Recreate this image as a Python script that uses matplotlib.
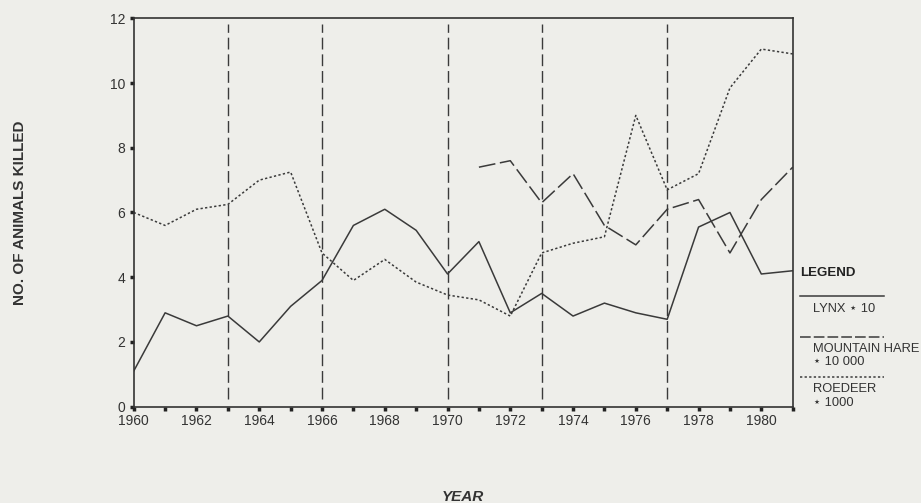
import matplotlib
matplotlib.use("Agg")
import matplotlib.pyplot as plt
from matplotlib.lines import Line2D
from matplotlib.ticker import FixedLocator

plt.rcParams['font.family'] = ['Liberation Sans', 'DejaVu Sans']

years = list(range(1960, 1982))
lynx = [1.1, 2.9, 2.5, 2.8, 2.0, 3.1, 3.9, 5.6, 6.1, 5.45, 4.1, 5.1,
        2.9, 3.5, 2.8, 3.2, 2.9, 2.7, 5.55, 6.0, 4.1, 4.2]
hare_years = list(range(1971, 1982))
hare = [7.4, 7.6, 6.3, 7.2, 5.6, 5.0, 6.1, 6.4, 4.75, 6.4, 7.4]
roedeer = [6.0, 5.6, 6.1, 6.25, 7.0, 7.25, 4.75, 3.9, 4.55, 3.85, 3.45, 3.3,
           2.8, 4.75, 5.05, 5.25, 9.0, 6.7, 7.2, 9.85, 11.05, 10.9]
period_lines = [1963, 1966, 1970, 1973, 1977]
xtick_labels = [str(y) for y in range(1960, 1982, 2)]
yticks = [0, 2, 4, 6, 8, 10, 12]

bg = '#eeeeea'
ink = '#3a3a3a'
hare_ls = (0, (11, 3))

fig = plt.figure(figsize=(9.21, 5.03), dpi=100, facecolor=bg)
ax = fig.add_axes([0.1452, 0.1915, 0.7155, 0.7721], facecolor=bg)

for yr in period_lines:
    ax.axvline(yr, color=ink, lw=1.0, linestyle=(0, (8.5, 3.5)), ymin=0.02, ymax=0.985)

ax.plot(years, lynx, color=ink, lw=1.1, linestyle='-')
ax.plot(hare_years, hare, color=ink, lw=1.1, linestyle=hare_ls)
ax.plot(years, roedeer, color=ink, lw=1.1, linestyle=(0, (1.5, 1.5)))

ax.set_xlim(1960, 1981)
ax.set_ylim(0, 12)
ax.xaxis.set_major_locator(FixedLocator(list(range(1960, 1982, 2))))
ax.set_xticklabels(xtick_labels)
ax.xaxis.set_minor_locator(FixedLocator(list(range(1961, 1982, 2))))
ax.set_yticks(yticks)
ax.set_yticklabels([str(v) for v in yticks])
ax.tick_params(axis='both', which='both', direction='out', length=3, width=2.5,
               color='#222222', labelsize=10, labelcolor='#333333')
ax.tick_params(axis='x', pad=2)
ax.tick_params(axis='y', pad=3)
for s in ax.spines.values():
    s.set_color('#333333')
    s.set_linewidth(1.2)

fig.text(0.0217, 0.5765, 'NO. OF ANIMALS KILLED', rotation=90, ha='center', va='center',
         fontsize=11, fontweight='bold', color='#333333')
fig.text(0.5027, 0.012, 'YEAR', ha='center', va='center', fontsize=11,
         fontstyle='italic', fontweight='bold', color='#333333')

# legend
x0, x1 = 0.8686, 0.9598
lfs = 9.3
fig.text(x0, 0.4573, 'LEGEND', ha='left', va='center', fontsize=9.5, fontweight='bold', color='#222222')
fig.add_artist(Line2D([x0, x1], [0.4121, 0.4121], transform=fig.transFigure, color=ink, lw=1.1))
fig.text(0.8827, 0.3863, 'LYNX \u22c6 10', ha='left', va='center', fontsize=lfs, color='#333333')
fig.add_artist(Line2D([x0, x1], [0.3306, 0.3306], transform=fig.transFigure, color=ink, lw=1.1,
                      linestyle=(0, (7, 2))))
fig.text(0.8827, 0.3062, 'MOUNTAIN HARE', ha='left', va='center', fontsize=lfs, color='#333333')
fig.text(0.8827, 0.2809, '\u22c6 10 000', ha='left', va='center', fontsize=lfs, color='#333333')
fig.add_artist(Line2D([x0, x1], [0.2505, 0.2505], transform=fig.transFigure, color=ink, lw=1.1,
                      linestyle=(0, (1.5, 1.5))))
fig.text(0.8827, 0.2266, 'ROEDEER', ha='left', va='center', fontsize=lfs, color='#333333')
fig.text(0.8827, 0.1994, '\u22c6 1000', ha='left', va='center', fontsize=lfs, color='#333333')

fig.savefig('out.png', dpi=100, facecolor=bg)
